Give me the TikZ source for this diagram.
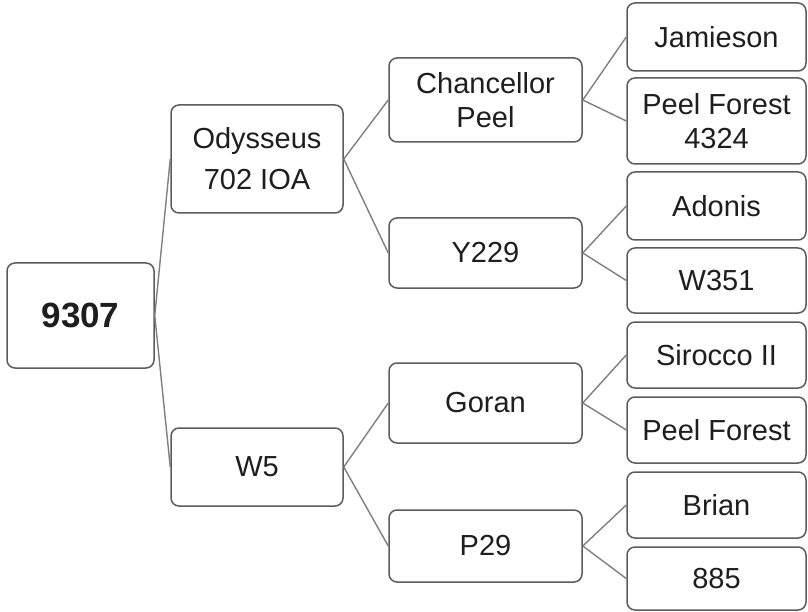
\documentclass[tikz,border=0pt]{standalone}
\usepackage{fontspec}
\setmainfont{Liberation Sans}
\definecolor{boxgray}{HTML}{5C5C5C}
\definecolor{linegray}{HTML}{7F7F7F}
\definecolor{textgray}{HTML}{1E1E1E}
\tikzset{
    pedigree/.style={
        draw=boxgray,
        fill=white,
        rounded corners=8pt,
        line width=1.5pt,
        inner sep=0pt,
        align=center,
        text=textgray,
        font=\fontsize{29}{34}\selectfont
    },
    pedigreeroot/.style={
        pedigree,
        font=\fontsize{35}{40}\selectfont\bfseries
    },
    pedigreeline/.style={
        draw=linegray,
        line width=1.4pt
    }
}

\begin{document}
\begin{tikzpicture}[x=1pt,y=-1pt]
        \useasboundingbox (0,0) rectangle (808,612);

        \node[pedigreeroot,minimum width=147pt,minimum height=105pt] (root) at (80.5,315.5) {9307};

        \node[pedigree,minimum width=172pt,minimum height=108pt] (odysseus) at (257,159)
            {Odysseus\\[7pt]702 IOA};
        \node[pedigree,minimum width=172pt,minimum height=78pt] (w5) at (257,467) {W5};

        \node[pedigree,minimum width=193pt,minimum height=84pt] (chancellor) at (485.5,100)
            {Chancellor\\Peel};
        \node[pedigree,minimum width=193pt,minimum height=70pt] (y229) at (485.5,253) {Y229};
        \node[pedigree,minimum width=193pt,minimum height=80pt] (goran) at (485.5,403) {Goran};
        \node[pedigree,minimum width=193pt,minimum height=72pt] (p29) at (485.5,546) {P29};

        \node[pedigree,minimum width=179pt,minimum height=68pt] (jamieson) at (716.5,37) {Jamieson};
        \node[pedigree,minimum width=179pt,minimum height=86pt] (peelforestb) at (716.5,121)
            {Peel Forest\\4324};
        \node[pedigree,minimum width=179pt,minimum height=68pt] (adonis) at (716.5,206) {Adonis};
        \node[pedigree,minimum width=179pt,minimum height=65pt] (w351) at (716.5,280.5) {W351};
        \node[pedigree,minimum width=179pt,minimum height=66pt] (sirocco) at (716.5,355) {Sirocco II};
        \node[pedigree,minimum width=179pt,minimum height=66pt] (peelforest) at (716.5,430) {Peel Forest};
        \node[pedigree,minimum width=179pt,minimum height=66pt] (brian) at (716.5,505) {Brian};
        \node[pedigree,minimum width=179pt,minimum height=63pt] (n885) at (716.5,578.5) {885};

        \draw[pedigreeline] (root.east) -- (odysseus.west);
        \draw[pedigreeline] (root.east) -- (w5.west);
        \draw[pedigreeline] (odysseus.east) -- (chancellor.west);
        \draw[pedigreeline] (odysseus.east) -- (y229.west);
        \draw[pedigreeline] (w5.east) -- (goran.west);
        \draw[pedigreeline] (w5.east) -- (p29.west);
        \draw[pedigreeline] (chancellor.east) -- (jamieson.west);
        \draw[pedigreeline] (chancellor.east) -- (peelforestb.west);
        \draw[pedigreeline] (y229.east) -- (adonis.west);
        \draw[pedigreeline] (y229.east) -- (w351.west);
        \draw[pedigreeline] (goran.east) -- (sirocco.west);
        \draw[pedigreeline] (goran.east) -- (peelforest.west);
        \draw[pedigreeline] (p29.east) -- (brian.west);
        \draw[pedigreeline] (p29.east) -- (n885.west);
    \end{tikzpicture}
\end{document}
